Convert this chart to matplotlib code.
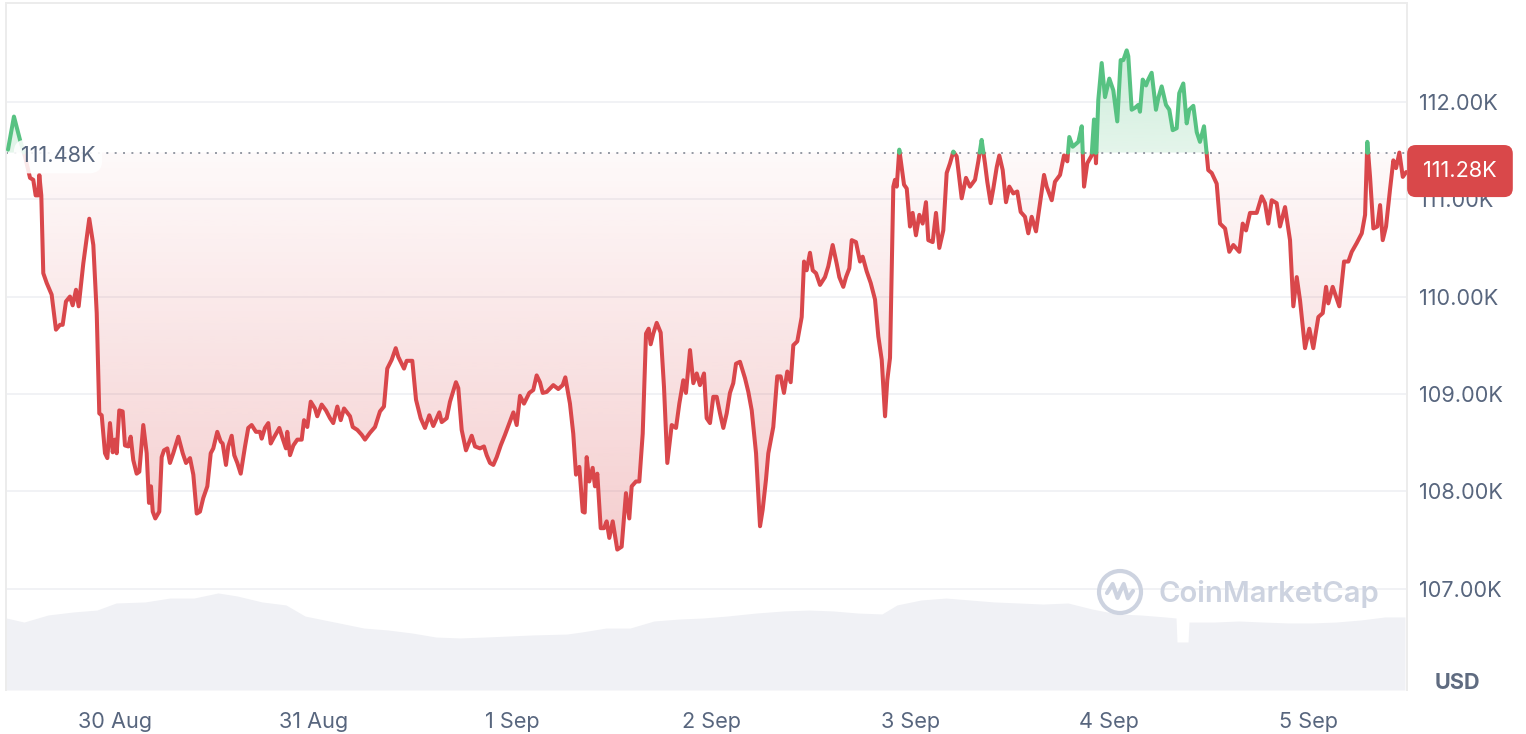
import numpy as np
import pandas as pd
import matplotlib
matplotlib.use("Agg")
import matplotlib.pyplot as plt
import matplotlib.dates as mdates
from matplotlib.path import Path
from matplotlib.patches import Circle, PathPatch
from matplotlib.transforms import IdentityTransform
from matplotlib.colors import to_rgb

plt.rcParams['font.family'] = ['Inter', 'DejaVu Sans']

# ---------------- data ----------------
start = pd.Timestamp('2025-08-29 11:05')
open_price = 111.48   # K USD, reference (dotted) level
last_price = 111.28   # K USD

price_hours = [
    0.00, 0.72, 1.45, 2.05, 2.66, 3.05, 3.34, 3.66, 3.78, 4.02, 4.26, 4.67, 5.27, 5.79, 6.28, 6.60,
    7.00, 7.48, 7.81, 8.21, 8.53, 9.09, 9.81, 10.30, 10.71, 11.02, 11.31, 11.71, 11.99, 12.31, 12.64,
    12.91, 13.12, 13.43, 13.84, 14.12, 14.52, 14.81, 15.12, 15.53, 15.85, 16.33, 16.74, 17.02, 17.26,
    17.47, 17.78, 18.26, 18.55, 18.83, 19.23, 19.55, 19.95, 20.56, 21.09, 21.49, 21.97, 22.37, 22.78,
    23.17, 23.57, 24.06, 24.47, 24.78, 25.26, 25.67, 25.91, 26.31, 26.59, 27.00, 27.31, 27.68, 28.09,
    28.61, 29.00, 29.41, 29.93, 30.42, 30.62, 31.02, 31.42, 31.71, 32.02, 32.75, 33.16, 33.55, 33.71,
    34.04, 34.44, 34.92, 35.45, 35.73, 36.13, 36.54, 37.05, 37.33, 37.86, 38.38, 38.87, 39.26, 39.75,
    40.16, 40.56, 41.28, 41.61, 42.16, 42.69, 43.09, 43.69, 44.30, 44.90,
    45.38, 45.78, 46.31, 46.80, 47.11, 47.80, 48.12, 48.80, 49.25, 49.81, 50.33, 50.85, 51.33, 52.06,
    52.35, 52.95, 53.35, 54.07, 54.35, 54.76, 55.28, 55.97, 56.37, 56.97, 57.45, 57.78, 58.18, 58.58,
    58.99, 59.47, 59.99, 60.51, 61.00, 61.40, 61.80, 62.28, 62.92, 63.40, 63.81, 64.21, 64.54, 65.02,
    65.82, 66.42, 66.95, 67.27, 67.83, 68.23, 68.56, 68.96, 69.37, 69.61, 69.85, 70.16, 70.57, 70.85,
    71.13, 71.54, 71.94, 72.26, 72.58, 72.99, 73.54, 74.07, 74.59, 74.99, 75.28, 75.80, 76.20, 76.61,
    77.01, 77.33, 77.57, 77.89, 78.30, 78.78, 79.18, 79.58, 80.11, 80.63, 81.03, 81.51, 81.83, 82.32,
    82.72, 83.13, 83.52, 84.01, 84.33, 84.73, 85.13, 85.54, 85.94, 86.34, 86.75, 87.14, 87.54, 87.87,
    88.35, 88.96, 89.36, 89.77, 90.29, 90.77, 91.09, 91.49, 91.77, 92.37, 92.85, 93.26, 93.66, 94.06,
    94.47, 94.79, 95.27,
    95.80, 96.08, 96.40, 96.80, 97.13, 97.53, 98.01, 98.61, 99.01, 99.54, 100.02, 100.34, 100.82,
    101.15, 101.55, 101.84, 102.35, 102.84, 103.16, 103.64, 104.13, 104.65, 105.05, 105.46, 105.86,
    106.13, 106.46, 106.86, 107.06, 107.27, 107.58, 108.15, 108.48, 108.87, 109.19, 109.59, 110.00,
    110.40, 110.80, 111.08, 111.61, 112.01, 112.41, 112.89, 113.30, 113.70, 114.10, 114.51, 115.11,
    115.63, 116.11, 116.72, 117.12, 117.52, 117.92, 118.20, 118.61, 118.93, 119.34, 119.65, 120.06,
    120.46, 120.86, 121.34, 121.82, 122.23, 122.75, 123.15, 123.56, 124.08, 124.56, 125.05, 125.37,
    125.98, 126.37, 126.98, 127.46, 127.86, 128.10, 128.51, 129.19, 129.60, 129.88, 130.27, 130.80,
    131.08, 131.32, 131.60, 132.01, 132.41, 132.93, 133.41, 133.89, 134.30, 134.62, 135.03, 135.22,
    135.63, 136.03, 136.43, 136.63, 136.96, 137.36, 137.63, 138.04, 138.56, 138.84, 139.25, 139.77,
    140.17, 140.58, 141.06, 141.37, 141.86, 142.27, 142.58, 143.07, 143.48, 143.87, 144.36, 144.68,
    144.87, 145.29, 145.89,
    146.29, 146.90, 147.41, 147.90, 148.62, 149.03, 149.43, 149.91, 150.72, 151.32, 151.72, 152.12,
    152.53, 153.13, 153.53, 154.14, 154.74, 155.14, 155.55, 155.95, 156.55, 157.07, 157.55, 158.16,
    158.69, 159.09, 159.36, 159.89, 160.69, 161.26, 161.78, 162.19, 162.79, 163.40, 163.80, 164.07,
    164.40, 164.80, 165.28, 165.61, 165.93, 166.33, 166.81, 167.21, 167.54, 167.94, 168.35, 168.77,
]

price_k = [
    111.51, 111.85, 111.61, 111.44, 111.22, 111.20, 111.04, 111.04, 111.25, 111.04, 110.24, 110.14,
    110.02, 109.66, 109.71, 109.71, 109.95, 110.00, 109.91, 110.07, 109.90, 110.34, 110.80, 110.53,
    109.83, 108.80, 108.78, 108.39, 108.34, 108.70, 108.40, 108.53, 108.39, 108.83, 108.82, 108.47,
    108.46, 108.56, 108.32, 108.18, 108.20, 108.68, 108.39, 107.88, 108.05, 107.79, 107.72, 107.79,
    108.35, 108.42, 108.44, 108.29, 108.39, 108.56, 108.39, 108.29, 108.34, 108.17, 107.77, 107.79,
    107.93, 108.05, 108.39, 108.44, 108.61, 108.51, 108.49, 108.27, 108.46, 108.57, 108.37, 108.29,
    108.18, 108.46, 108.65, 108.68, 108.61, 108.61, 108.54, 108.65, 108.70, 108.49, 108.54, 108.65,
    108.54, 108.44, 108.61, 108.37, 108.47, 108.53, 108.53, 108.73, 108.66, 108.92, 108.85, 108.77,
    108.89, 108.83, 108.75, 108.70, 108.87, 108.73, 108.85, 108.77, 108.66, 108.63, 108.58, 108.53,
    108.60, 108.66, 108.82,
    108.87, 109.26, 109.35, 109.47, 109.38, 109.26, 109.34, 109.34, 108.94, 108.75, 108.65, 108.78,
    108.67, 108.81, 108.71, 108.75, 108.92, 109.12, 109.06, 108.63, 108.42, 108.57, 108.46, 108.44,
    108.46, 108.37, 108.29, 108.27, 108.35, 108.47, 108.58, 108.70, 108.81, 108.68, 108.98, 108.90,
    109.01, 109.04, 109.19, 109.12, 109.01, 109.02, 109.09, 109.05, 109.09, 109.17, 108.90, 108.59,
    108.17, 108.25, 107.79, 107.78, 108.35, 108.10, 108.24, 108.05, 108.18, 107.62, 107.62, 107.69,
    107.52, 107.69, 107.40, 107.43, 107.98, 107.72, 108.05, 108.10, 108.10, 108.59, 109.62, 109.67,
    109.51, 109.62, 109.73, 109.63, 109.07, 108.29, 108.68, 108.65, 108.90, 109.14, 109.01, 109.45,
    109.11, 109.21, 109.09, 109.21, 108.75, 108.70, 108.97, 108.97, 108.80, 108.65, 108.80, 109.01,
    109.11, 109.31, 109.33, 109.16, 109.02, 108.83, 108.39, 107.64, 107.81, 108.12, 108.39, 108.66,
    109.18, 109.18, 109.01, 109.23, 109.12, 109.50, 109.54,
    109.79, 110.36, 110.27, 110.45, 110.27, 110.24, 110.12, 110.20, 110.31, 110.53, 110.34, 110.20,
    110.10, 110.20, 110.29, 110.58, 110.56, 110.36, 110.41, 110.26, 110.14, 109.97, 109.59, 109.35,
    108.77, 109.14, 109.37, 111.13, 111.20, 111.13, 111.51, 111.15, 111.11, 110.72, 110.86, 110.63,
    110.84, 110.75, 110.97, 110.58, 110.56, 110.86, 110.50, 110.68, 111.27, 111.37, 111.49, 111.44,
    111.01, 111.22, 111.13, 111.20, 111.39, 111.61, 111.37, 111.18, 110.96, 111.11, 111.33, 111.45,
    111.30, 110.97, 111.13, 111.06, 111.08, 110.87, 110.82, 110.65, 110.82, 110.67, 110.96, 111.25,
    111.13, 110.99, 111.18, 111.25, 111.45, 111.39, 111.64, 111.54, 111.59, 111.75, 111.13, 111.37,
    111.45, 111.82, 111.37, 112.02, 112.40, 112.05, 112.24, 112.12, 111.80, 112.43, 112.43, 112.53,
    112.47, 111.92, 111.94, 111.97, 111.90, 112.23, 112.17, 112.23, 112.30, 111.92, 112.04, 112.16,
    111.97, 111.92, 111.71, 111.73, 112.09, 112.19, 111.78, 111.92, 111.96, 111.69, 111.59, 111.75,
    111.47, 111.30, 111.27, 111.16,
    110.75, 110.70, 110.46, 110.53, 110.46, 110.75, 110.68, 110.86, 110.86, 111.03, 110.96, 110.75,
    110.99, 110.96, 110.72, 110.92, 110.58, 109.90, 110.20, 109.96, 109.47, 109.67, 109.47, 109.79,
    109.83, 110.10, 109.93, 110.10, 109.90, 110.36, 110.36, 110.46, 110.55, 110.65, 110.84, 111.59,
    111.23, 110.70, 110.72, 110.94, 110.58, 110.72, 111.10, 111.40, 111.32, 111.48, 111.23, 111.28,
]

volume_hours = [
    -0.2, 1.93, 4.83, 7.85, 10.74, 13.04, 16.54, 19.55, 22.45, 25.35, 27.64, 30.66, 33.55, 35.85,
    39.95, 42.97, 45.87, 48.76, 51.66, 54.56, 57.57, 60.47, 63.37, 67.47, 69.28, 72.18, 75.08, 77.97,
    80.99, 83.89, 86.78, 90.28, 93.66, 96.68, 99.58, 102.60, 105.49, 107.30, 110.20, 113.22, 116.12,
    119.01, 122.03, 124.92, 127.94, 130.84, 133.86, 136.75, 139.65, 140.98, 141.10, 142.43, 142.55,
    145.56, 148.58, 151.48, 154.50, 157.39, 160.29, 163.31, 166.20, 168.61,
]
volume_b = [
    48.0, 45.3, 50.0, 52.0, 53.3, 58.0, 58.7, 61.3, 61.3, 64.7, 62.7, 58.7, 56.7, 49.3, 44.7, 41.3,
    40.0, 38.0, 35.3, 34.7, 35.3, 36.0, 36.7, 37.3, 38.7, 41.3, 41.3, 46.0, 47.3, 48.0, 49.3, 51.3,
    52.7, 53.3, 52.7, 51.3, 50.7, 56.7, 60.0, 61.3, 60.0, 58.7, 58.0, 57.3, 58.0, 54.0, 50.7, 50.0,
    48.7, 48.0, 32.0, 32.0, 45.3, 45.3, 46.0, 45.3, 44.7, 44.7, 45.3, 46.7, 48.7, 48.7,
]

ytick_values = [107, 108, 109, 110, 111, 112]

# ---------------- style ----------------
RED = '#d9474b'
GREEN = '#57c282'
TXT = '#58667e'
GRID = '#eff0f3'
FS = 15.6

W, H = 1526, 734
fig = plt.figure(figsize=(W / 100, H / 100), dpi=100)
fig.patch.set_facecolor('white')

left_px, right_px, top_px, bottom_px = 6, 1407, 3, 690
pos = [left_px / W, (H - bottom_px) / H, (right_px - left_px) / W, (bottom_px - top_px) / H]

def to_num(hours):
    t = start + pd.to_timedelta(np.asarray(hours, dtype=float), unit='h')
    return mdates.date2num(t.to_pydatetime())

xmin = to_num([-0.24])[0]
xmax = to_num([168.86])[0]

# volume (background)
axv = fig.add_axes(pos)
vt = to_num(volume_hours)
axv.fill_between(vt, np.asarray(volume_b), 0, color='#f0f1f5', lw=0)
axv.set_xlim(xmin, xmax)
axv.set_ylim(0, 458)
axv.axis('off')

# price axes
ax = fig.add_axes(pos)
ax.patch.set_visible(False)
ax.set_axisbelow(True)

tx = to_num(price_hours)
p = np.asarray(price_k, dtype=float)
base = open_price

xs, ys = [tx[0]], [p[0]]
for i in range(1, len(p)):
    a, b = p[i - 1] - base, p[i] - base
    if a * b < 0:
        f = a / (a - b)
        xs.append(tx[i - 1] + f * (tx[i] - tx[i - 1]))
        ys.append(base)
    xs.append(tx[i])
    ys.append(p[i])
xs = np.array(xs)
ys = np.array(ys)

# gradient fills clipped to the areas between line and reference level
def grad_fill(lower, upper, color, a_bottom, a_top):
    poly = ax.fill_between(xs, lower, upper, color='none', lw=0)
    path = poly.get_paths()[0]
    g = np.zeros((256, 1, 4))
    g[..., :3] = to_rgb(color)
    g[:, 0, 3] = np.linspace(a_bottom, a_top, 256)
    y0 = min(lower.min(), upper.min())
    y1 = max(lower.max(), upper.max())
    im = ax.imshow(g, extent=[xs[0], xs[-1], y0, y1], origin='lower',
                   aspect='auto', zorder=1, interpolation='bilinear')
    im.set_clip_path(path, ax.transData)

grad_fill(np.minimum(ys, base), np.full_like(ys, base), RED, 0.27, 0.03)
grad_fill(np.full_like(ys, base), np.maximum(ys, base), GREEN, 0.16, 0.30)

red_line = np.where(ys <= base, ys, np.nan)
green_line = np.where(ys >= base, ys, np.nan)
ax.plot(xs, red_line, color=RED, lw=2.9, solid_joinstyle='round', solid_capstyle='round', zorder=3)
ax.plot(xs, green_line, color=GREEN, lw=2.9, solid_joinstyle='round', solid_capstyle='round', zorder=3)

ax.axhline(base, color='#9499a3', lw=1.4, ls=(0, (1, 3.3)), zorder=2)

ax.set_xlim(xmin, xmax)
ax.set_ylim(105.957, 113.017)

# axes styling
ax.grid(axis='y', color=GRID, lw=1.2)
ax.grid(axis='x', visible=False)
for s in ['top', 'left', 'right']:
    ax.spines[s].set_color('#ececec')
    ax.spines[s].set_linewidth(1.4)
ax.spines['bottom'].set_visible(False)

ax.yaxis.tick_right()
ax.set_yticks(ytick_values)
ax.set_yticklabels([f'{v:.2f}K' for v in ytick_values])
ax.tick_params(axis='y', length=0, pad=8.4, labelsize=FS, labelcolor=TXT)

ax.xaxis.set_major_locator(mdates.DayLocator())
ax.xaxis.set_major_formatter(mdates.DateFormatter('%-d %b'))
ax.tick_params(axis='x', length=0, pad=15.5, labelsize=FS, labelcolor=TXT)

# reference label (left)
ax.text(0.0371, base - 0.04, f'{open_price:.2f}K', transform=ax.get_yaxis_transform(),
        ha='center', va='center', fontsize=FS, color=TXT, zorder=6,
        bbox=dict(boxstyle='round,pad=0.32,rounding_size=0.6', fc='white', ec='none', alpha=0.88))

# last price label (right)
ax.text(1.0378, last_price + 0.01, f'{last_price:.2f}K', transform=ax.get_yaxis_transform(),
        ha='center', va='center', fontsize=FS, color='white', zorder=10, clip_on=False,
        bbox=dict(boxstyle='round,pad=0.74,rounding_size=0.4', fc='#d9484a', ec='none'))

# currency label
fig.text(1457 / W, (H - 683) / H, 'USD', ha='center', va='center', fontsize=FS,
         fontweight='bold', color='#5f6b80')

# watermark
WM = '#cdd3e0'
ident = IdentityTransform()
cx, cy, r = 1120, H - 592, 21
fig.patches.append(Circle((cx, cy), r, transform=ident, fill=False, ec=WM, lw=3.0, zorder=5))
zz = np.array([(-0.62, -0.05), (-0.35, 0.38), (-0.12, -0.28), (0.02, 0.05), (0.18, 0.38),
               (0.38, -0.3), (0.62, 0.05)])
zpath = Path(np.column_stack([cx + zz[:, 0] * r, cy + zz[:, 1] * r]))
fig.patches.append(PathPatch(zpath, transform=ident, fill=False, ec=WM, lw=3.0,
                             joinstyle='round', capstyle='round', zorder=5))
fig.text(1159 / W, (H - 594) / H, 'CoinMarketCap', ha='left', va='center', fontsize=21,
         fontweight='semibold', color=WM, zorder=5)

fig.savefig('out.png', dpi=100, facecolor='white')
